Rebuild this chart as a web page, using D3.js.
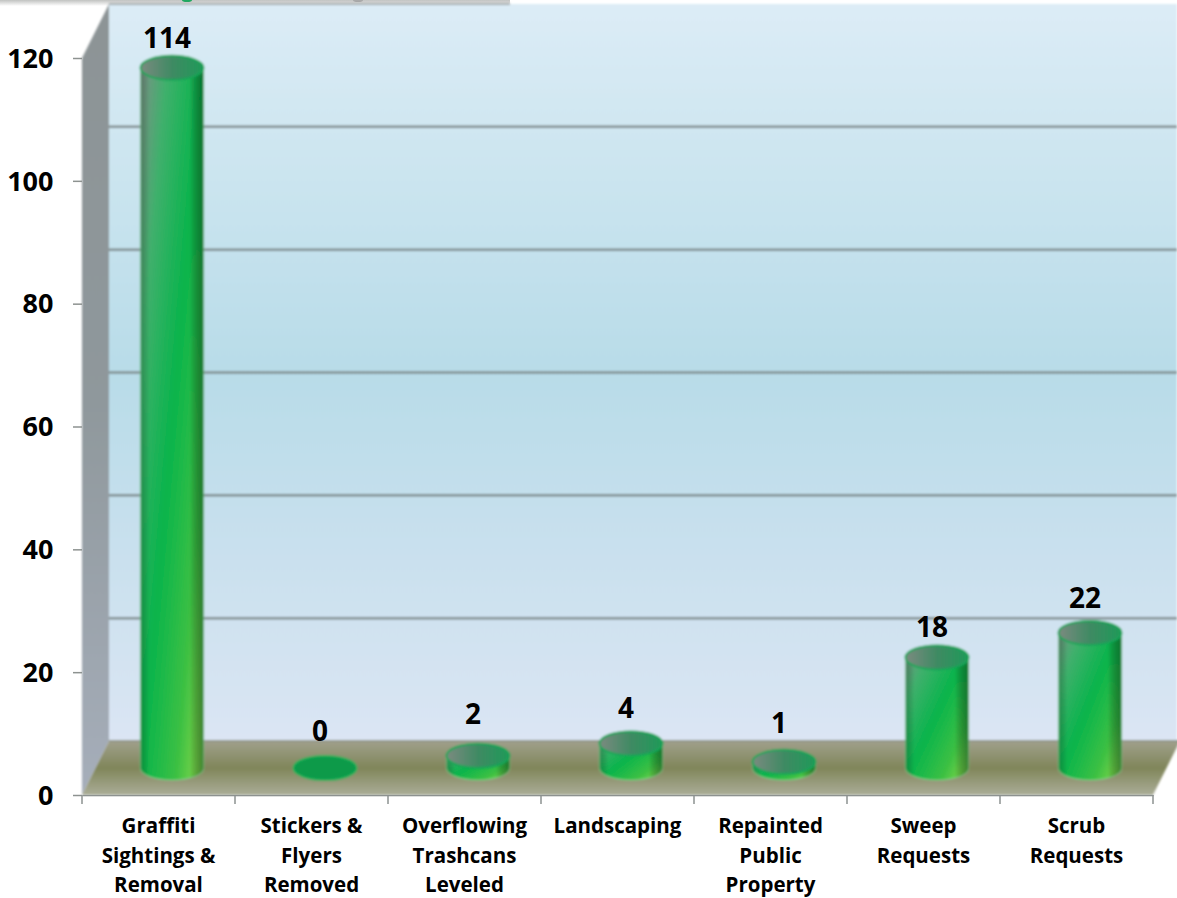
<!DOCTYPE html>
<meta charset="utf-8">
<style>
    html, body { margin: 0; background: #fff; }
    svg { display: block; }
    text { font-family: "Open Sans", "Noto Sans", sans-serif; font-weight: 700; fill: #000; }
    .axis path { stroke: #8d9290; stroke-width: 1.5; }
    .axis line { stroke: #8d9290; stroke-width: 1.5; }
</style>
<body>
<script src="https://d3js.org/d3.v7.min.js"></script>
<script>

    var categories = ["Graffiti|Sightings &|Removal", "Stickers &|Flyers|Removed", "Overflowing|Trashcans|Leveled",
        "Landscaping", "Repainted|Public|Property", "Sweep|Requests", "Scrub|Requests"];
    var values = [114, 0, 2, 4, 1, 18, 22];
    var yTicks = [0, 20, 40, 60, 80, 100, 120];

    // the labels were dragged by hand in the original, so they don't sit at a fixed distance
    var labelNudge = [-20, -27, -32, -25, -29, -20, -25];

    var width = 1177,
        height = 898,
        depthX = 27,
        depthY = 54;

    var y = d3.scaleLinear().domain([0, 120]).range([795, 58]);
    var x = d3.scaleBand().domain(categories).range([82, 1153]);

    var svg = d3.select("body").append("svg")
        .attr("width", width)
        .attr("height", height);

    var defs = svg.append("defs");

    function gradient(id, stops, x2, y2) {
        var g = defs.append("linearGradient").attr("id", id)
            .attr("x1", 0).attr("y1", 0).attr("x2", x2).attr("y2", y2);
        stops.forEach(function(s) {
            g.append("stop").attr("offset", s[0]).attr("stop-color", s[1])
                .attr("stop-opacity", s[2] === undefined ? 1 : s[2]);
        });
    }

    gradient("wall", [[0, "#dcecf6"], [0.5, "#b8dce8"], [1, "#dbe5f4"]], 0, 1);
    gradient("side", [[0, "#8d9496"], [0.5, "#8f989c"], [1, "#a6aeba"]], 0, 1);
    gradient("floor", [[0, "#a0a08c"], [0.5, "#80865a"], [1, "#abad98"]], 0, 1);
    gradient("body", [[0, "#7f8f88"], [0.22, "#3fb06c"], [0.5, "#0ab44c"], [0.78, "#3cc043"], [1, "#90dc4a"]], 1, 1);
    gradient("edge", [[0, "#003010", 0.28], [0.14, "#000", 0], [0.78, "#000", 0], [1, "#00401a", 0.55]], 1, 0);
    gradient("top", [[0, "#7c8a80"], [0.5, "#3f8a63"], [1, "#1f9a58"]], 1, 0);
    gradient("strip", [[0, "#c0c2c0"], [1, "#fff"]], 0, 1);

    defs.append("filter").attr("id", "soft")
        .attr("x", "-5%").attr("y", "-5%").attr("width", "110%").attr("height", "110%")
        .append("feGaussianBlur").attr("stdDeviation", 0.8);

    var line = d3.line();

    // leftover of the legend strip cropped at the top
    svg.append("rect").attr("width", 510).attr("height", 6).attr("fill", "url(#strip)");
    svg.append("ellipse").attr("cx", 187).attr("cy", 0).attr("rx", 5).attr("ry", 2).attr("fill", "#1fa860");
    svg.append("ellipse").attr("cx", 358).attr("cy", 0).attr("rx", 5).attr("ry", 2).attr("fill", "#a9a9a9");

    var plot = svg.append("g").attr("filter", "url(#soft)");

    var left = x.range()[0],
        right = x.range()[1],
        backLeft = left + depthX,
        backRight = right + depthX;

    plot.append("rect")
        .attr("x", backLeft).attr("y", y(120) - depthY)
        .attr("width", width - backLeft).attr("height", y(0) - y(120))
        .attr("fill", "url(#wall)");

    plot.append("path")
        .attr("d", line([[left, y(120)], [backLeft, y(120) - depthY], [backLeft, y(0) - depthY], [left, y(0)]]) + "Z")
        .attr("fill", "url(#side)");

    plot.append("path")
        .attr("d", line([[left, y(0)], [backLeft, y(0) - depthY], [backRight, y(0) - depthY], [right, y(0)]]) + "Z")
        .attr("fill", "url(#floor)");

    // top edge of the wall
    plot.append("line")
        .attr("x1", backLeft).attr("x2", 510)
        .attr("y1", y(120) - depthY).attr("y2", y(120) - depthY)
        .attr("stroke", "#8d9290").attr("stroke-width", 1.5);

    plot.selectAll(".grid")
        .data(yTicks.slice(1, 6))
        .enter().append("line")
        .attr("class", "grid")
        .attr("x1", backLeft).attr("x2", width)
        .attr("y1", function(d) { return y(d) - depthY; })
        .attr("y2", function(d) { return y(d) - depthY; })
        .attr("stroke", "#7f8c8e").attr("stroke-width", 2.5);

    plot.append("line")
        .attr("x1", backLeft).attr("x2", backRight)
        .attr("y1", y(0) - depthY).attr("y2", y(0) - depthY)
        .attr("stroke", "#93988a").attr("stroke-width", 2);

    // cylinders
    var rx = 31.5, ry = 12;

    function cx(i) { return x(categories[i]) + x.bandwidth() / 2 + depthX / 2; }
    function topY(v) { return y(v) - depthY / 2; }

    function cylinder(v, i) {
        var c = cx(i), t = topY(v), b = topY(0);
        return "M" + (c - rx) + "," + t + "L" + (c - rx) + "," + b +
            "A" + rx + "," + ry + " 0 0 0 " + (c + rx) + "," + b +
            "L" + (c + rx) + "," + t +
            "A" + rx + "," + ry + " 0 0 0 " + (c - rx) + "," + t + "Z";
    }

    var bars = plot.selectAll(".bar")
        .data(values)
        .enter().append("g")
        .attr("class", "bar");

    bars.append("path")
        .attr("d", cylinder)
        .attr("fill", "url(#body)")
        .attr("stroke", "#7fe39a").attr("stroke-opacity", 0.45).attr("stroke-width", 1.5);

    bars.append("path")
        .attr("d", cylinder)
        .attr("fill", "url(#edge)");

    bars.append("ellipse")
        .attr("cx", function(d, i) { return cx(i); })
        .attr("cy", function(d) { return topY(d); })
        .attr("rx", rx).attr("ry", ry)
        .attr("fill", function(d) { return d === 0 ? "#0f9a48" : "url(#top)"; })
        .attr("stroke", function(d) { return d === 0 ? "#1fae58" : "#17a558"; })
        .attr("stroke-width", 2);

    // axes
    var yAxis = d3.axisLeft(y).tickValues(yTicks).tickSize(9).tickSizeOuter(0).tickFormat(d3.format("d"));
    var gy = svg.append("g").attr("class", "axis").attr("transform", "translate(" + left + ",0)").call(yAxis);
    gy.select(".domain").remove();
    gy.selectAll("text").attr("x", -28.5).attr("dy", "0.34em").style("font-size", "27px");

    var xAxis = d3.axisBottom(x).tickValues([]).tickSizeOuter(0);
    svg.append("g").attr("class", "axis").attr("transform", "translate(0," + y(0) + ")").call(xAxis);

    svg.append("g").attr("class", "axis").selectAll("line")
        .data(d3.range(categories.length + 1))
        .enter().append("line")
        .attr("x1", function(d) { return left + d * x.step(); })
        .attr("x2", function(d) { return left + d * x.step(); })
        .attr("y1", y(0)).attr("y2", y(0) + 9);

    // category labels
    var labels = svg.selectAll(".cat")
        .data(categories)
        .enter().append("text")
        .attr("class", "cat")
        .attr("text-anchor", "middle")
        .style("font-size", "20.5px");

    labels.selectAll("tspan")
        .data(function(d) { return d.split("|").map(function(t) { return { t: t, c: d }; }); })
        .enter().append("tspan")
        .attr("x", function(d) { return x(d.c) + x.bandwidth() / 2; })
        .attr("y", function(d, i) { return 833 + i * 29.5; })
        .text(function(d) { return d.t; });

    // value labels
    svg.selectAll(".val")
        .data(values)
        .enter().append("text")
        .attr("class", "val")
        .attr("text-anchor", "middle")
        .attr("x", function(d, i) { return x(categories[i]) + x.bandwidth() / 2 + 8.5; })
        .attr("y", function(d, i) { return topY(d) + labelNudge[i]; })
        .style("font-size", "28px")
        .text(function(d) { return d; });

</script>
